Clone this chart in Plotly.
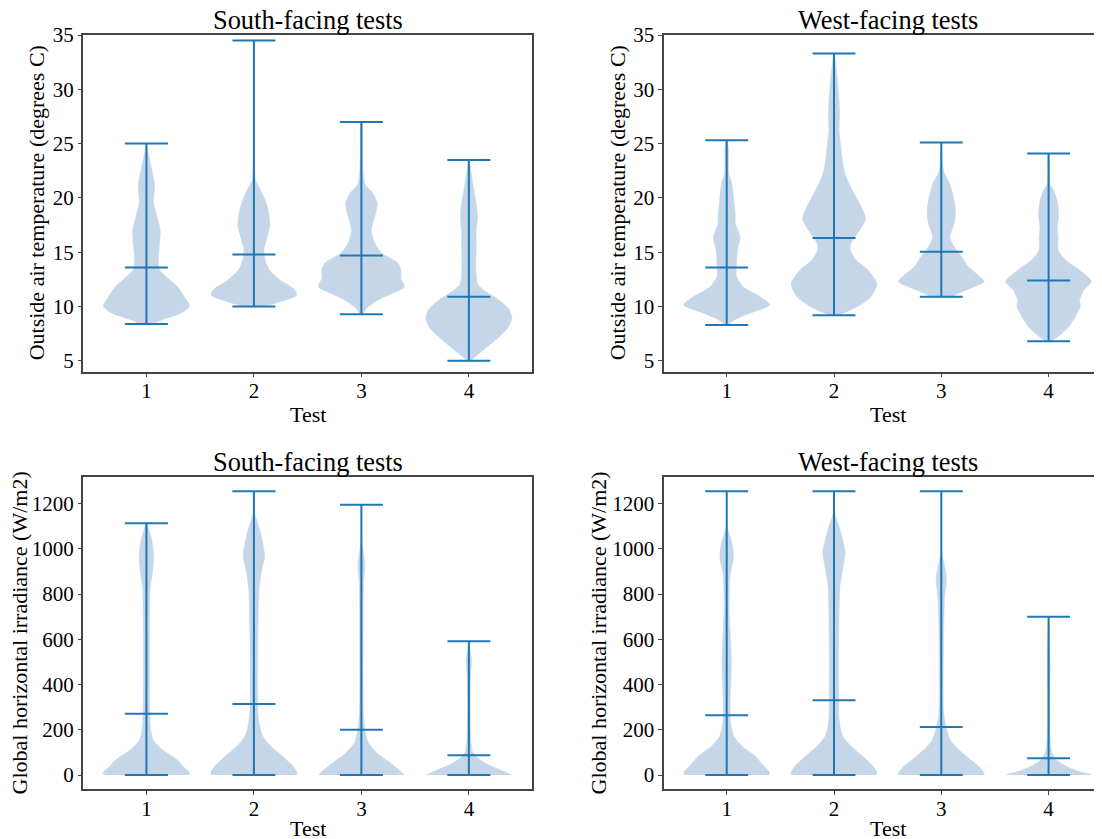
import plotly.graph_objects as go

W, H = 1102, 839
OFF = 8.0  # page body margin offset (px)
FONT = "Liberation Serif, Times New Roman, serif"
BLUE = "#1f77b4"
FILL = "#c4d6e8"
SPINE = "#444444"

tests = [1, 2, 3, 4]
tick_labels = ["1", "2", "3", "4"]
temp_ticks = [5, 10, 15, 20, 25, 30, 35]
ghi_ticks = [0, 200, 400, 600, 800, 1000, 1200]

# ---- summary statistics (max, min, mean) ----
south_temp_max = [25.0, 34.5, 27.0, 23.5]
south_temp_min = [8.4, 10.0, 9.3, 5.0]
south_temp_mean = [13.6, 14.8, 14.7, 10.9]

west_temp_max = [25.3, 33.3, 25.1, 24.1]
west_temp_min = [8.3, 9.2, 10.9, 6.8]
west_temp_mean = [13.6, 16.3, 15.05, 12.4]

south_ghi_max = [1113, 1255, 1195, 592]
south_ghi_min = [0, 0, 0, 0]
south_ghi_mean = [271, 314, 200, 88]

west_ghi_max = [1255, 1255, 1255, 700]
west_ghi_min = [0, 0, 0, 0]
west_ghi_mean = [265, 331, 213, 75]

# ---- violin outlines: values and relative density (1 = widest) ----
st1_v = [8.4, 8.8, 9.4, 10.06, 10.9, 11.8, 12.75, 13.4, 14.6, 17.0, 19.5, 21.3, 23.2, 24.4, 25.0]
st1_d = [0.15, 0.38, 0.81, 1.0, 0.88, 0.73, 0.46, 0.30, 0.28, 0.32, 0.17, 0.19, 0.09, 0.03, 0.0]
st2_v = [10.0, 10.45, 11.07, 11.7, 12.4, 13.4, 14.3, 15.2, 16.4, 17.5, 18.9, 20.1, 21.3, 21.6, 28.0, 34.5]
st2_d = [0.2, 0.62, 1.0, 0.9, 0.62, 0.35, 0.26, 0.23, 0.31, 0.37, 0.33, 0.23, 0.08, 0.04, 0.01, 0.0]
st3_v = [9.3, 9.84, 10.6, 11.2, 11.8, 12.6, 13.4, 14.0, 14.9, 15.8, 17.0, 18.6, 19.5, 20.4, 21.3, 23.2, 26.8, 27.0]
st3_d = [0.04, 0.12, 0.39, 0.7, 1.0, 0.92, 0.92, 0.85, 0.48, 0.31, 0.23, 0.33, 0.37, 0.27, 0.08, 0.03, 0.02, 0.0]
st4_v = [5.0, 5.55, 6.3, 7.2, 8.0, 8.9, 9.7, 10.6, 11.5, 12.1, 14.0, 15.5, 17.0, 18.3, 19.5, 21.3, 23.2, 23.5]
st4_d = [0.03, 0.2, 0.43, 0.7, 0.9, 1.0, 0.94, 0.7, 0.35, 0.2, 0.16, 0.17, 0.17, 0.2, 0.17, 0.09, 0.02, 0.0]

wt1_v = [8.3, 8.8, 9.4, 10.15, 10.9, 11.8, 12.75, 14.0, 15.2, 16.4, 17.65, 18.3, 19.5, 21.3, 22.25, 24.7, 25.3]
wt1_d = [0.04, 0.2, 0.55, 1.0, 0.78, 0.39, 0.23, 0.23, 0.25, 0.31, 0.2, 0.2, 0.17, 0.12, 0.05, 0.04, 0.0]
wt2_v = [9.2, 9.4, 10.0, 10.9, 12.1, 13.4, 14.3, 15.2, 15.8, 17.0, 18.0, 18.6, 19.8, 21.3, 22.6, 24.4, 26.2, 27.8, 30.8, 33.0, 33.3]
wt2_d = [0.12, 0.23, 0.55, 0.86, 1.0, 0.78, 0.51, 0.38, 0.39, 0.59, 0.73, 0.7, 0.55, 0.35, 0.23, 0.17, 0.12, 0.13, 0.08, 0.02, 0.0]
wt3_v = [10.8, 11.07, 11.7, 12.3, 12.75, 13.7, 14.6, 15.5, 16.4, 17.65, 18.6, 19.5, 21.3, 22.25, 23.0, 24.9, 25.1]
wt3_d = [0.15, 0.31, 0.7, 1.0, 0.9, 0.62, 0.47, 0.3, 0.2, 0.3, 0.33, 0.31, 0.2, 0.07, 0.03, 0.01, 0.0]
wt4_v = [6.8, 7.4, 8.15, 9.07, 10.0, 10.6, 11.5, 12.3, 13.4, 14.3, 15.2, 16.4, 17.3, 18.3, 19.5, 20.7, 21.3, 23.8, 24.1]
wt4_d = [0.06, 0.27, 0.47, 0.62, 0.74, 0.72, 0.82, 1.0, 0.7, 0.39, 0.22, 0.22, 0.2, 0.23, 0.21, 0.12, 0.03, 0.02, 0.0]

sg1_v = [0, 11.5, 34, 71, 115, 159, 218, 291, 512, 733, 836, 895, 969, 1042, 1101, 1113]
sg1_d = [0.98, 1.0, 0.88, 0.69, 0.35, 0.15, 0.09, 0.075, 0.07, 0.075, 0.09, 0.14, 0.17, 0.12, 0.03, 0.0]
sg2_v = [0, 11.5, 41, 85, 129, 174, 232, 291, 586, 822, 895, 969, 1057, 1131, 1160, 1255]
sg2_d = [0.98, 1.0, 0.9, 0.66, 0.39, 0.2, 0.12, 0.09, 0.09, 0.12, 0.17, 0.25, 0.17, 0.06, 0.01, 0.0]
sg3_v = [0, 19, 56, 100, 144, 203, 291, 586, 851, 924, 983, 1027, 1195]
sg3_d = [1.0, 0.9, 0.66, 0.35, 0.16, 0.08, 0.045, 0.04, 0.05, 0.08, 0.05, 0.01, 0.0]
sg4_v = [0, 19, 41, 71, 100, 144, 291, 439, 512, 556, 592]
sg4_d = [1.0, 0.78, 0.5, 0.23, 0.09, 0.05, 0.03, 0.04, 0.06, 0.02, 0.0]

wg1_v = [0, 11.5, 41, 85, 129, 174, 232, 321, 497, 733, 880, 969, 1027, 1101, 1255]
wg1_d = [0.98, 1.0, 0.86, 0.66, 0.35, 0.16, 0.09, 0.08, 0.11, 0.06, 0.08, 0.16, 0.12, 0.01, 0.0]
wg2_v = [0, 11.5, 41, 85, 129, 174, 247, 365, 586, 836, 910, 983, 1042, 1116, 1160, 1255]
wg2_d = [0.98, 1.0, 0.9, 0.66, 0.39, 0.2, 0.12, 0.11, 0.11, 0.14, 0.2, 0.26, 0.2, 0.09, 0.01, 0.0]
wg3_v = [0, 7, 34, 71, 115, 159, 232, 291, 586, 792, 866, 939, 983, 1255]
wg3_d = [0.99, 1.0, 0.9, 0.66, 0.39, 0.2, 0.09, 0.05, 0.05, 0.08, 0.12, 0.06, 0.01, 0.0]
wg4_v = [0, 4, 19, 41, 71, 100, 144, 291, 497, 672, 700]
wg4_d = [1.0, 0.95, 0.66, 0.39, 0.16, 0.08, 0.04, 0.025, 0.035, 0.01, 0.0]

HALF_WIDTH = 0.4   # violin half width at densest point (widths=0.8)
CAP_HALF = 0.2     # cap line half length


def fx(px):
    return (px - OFF) / W


def fy(py):
    return 1 - (py - OFF) / H


panels = [
    dict(xa="x", ya="y", title="South-facing tests",
         ylabel="Outside air temperature (degrees C)",
         profiles=[(st1_v, st1_d), (st2_v, st2_d), (st3_v, st3_d), (st4_v, st4_d)],
         vmax=south_temp_max, vmin=south_temp_min, vmean=south_temp_mean),
    dict(xa="x2", ya="y2", title="West-facing tests",
         ylabel="Outside air temperature (degrees C)",
         profiles=[(wt1_v, wt1_d), (wt2_v, wt2_d), (wt3_v, wt3_d), (wt4_v, wt4_d)],
         vmax=west_temp_max, vmin=west_temp_min, vmean=west_temp_mean),
    dict(xa="x3", ya="y3", title="South-facing tests",
         ylabel="Global horizontal irradiance (W/m2)",
         profiles=[(sg1_v, sg1_d), (sg2_v, sg2_d), (sg3_v, sg3_d), (sg4_v, sg4_d)],
         vmax=south_ghi_max, vmin=south_ghi_min, vmean=south_ghi_mean),
    dict(xa="x4", ya="y4", title="West-facing tests",
         ylabel="Global horizontal irradiance (W/m2)",
         profiles=[(wg1_v, wg1_d), (wg2_v, wg2_d), (wg3_v, wg3_d), (wg4_v, wg4_d)],
         vmax=west_ghi_max, vmin=west_ghi_min, vmean=west_ghi_mean),
]

fig = go.Figure()

for p in panels:
    for t, (vals, dens) in zip(tests, p["profiles"]):
        xs = [t - HALF_WIDTH * d for d in dens] + [t + HALF_WIDTH * d for d in dens[::-1]]
        ys = list(vals) + list(vals[::-1])
        fig.add_trace(go.Scatter(
            x=xs, y=ys, mode="lines", fill="toself", fillcolor=FILL,
            line=dict(width=0.5, color=FILL, shape="spline", smoothing=0.7),
            xaxis=p["xa"], yaxis=p["ya"], hoverinfo="skip", showlegend=False))
    lx, ly = [], []
    for t, hi, lo, mu in zip(tests, p["vmax"], p["vmin"], p["vmean"]):
        lx += [t, t, None]
        ly += [lo, hi, None]
        for v in (hi, lo, mu):
            lx += [t - CAP_HALF, t + CAP_HALF, None]
            ly += [v, v, None]
    fig.add_trace(go.Scatter(
        x=lx, y=ly, mode="lines", line=dict(color=BLUE, width=2),
        xaxis=p["xa"], yaxis=p["ya"], hoverinfo="skip", showlegend=False))

# geometry (pixels in the final picture)
L_X0, L_X1 = 83.3, 532.0
R_X0 = 663.7
R_X1 = W + OFF        # right panel runs past the picture edge
T_Y0, T_Y1 = 35.0, 371.7
B_Y0, B_Y1 = 477.0, 789.3
PX_PER_UNIT = 107.3
TICK1_R = 726.7

common_x = dict(tickmode="array", tickvals=tests, ticktext=tick_labels,
                ticks="outside", ticklen=3.5, tickwidth=1.2, tickcolor=SPINE,
                ticklabelstandoff=-4,
                showline=True, linecolor=SPINE, linewidth=1.5, mirror=True,
                showgrid=False, zeroline=False, fixedrange=True, automargin=False,
                tickfont=dict(family=FONT, size=21, color="black"))
common_y = dict(ticks="outside", ticklen=3.5, tickwidth=1.2, tickcolor=SPINE,
                showline=True, linecolor=SPINE, linewidth=1.5,
                showgrid=False, zeroline=False, fixedrange=True, automargin=False,
                tickfont=dict(family=FONT, size=21, color="black"))

left_range = [0.4128, 4.5872]
right_range = [1 - (TICK1_R - R_X0) / PX_PER_UNIT, 1 + (R_X1 - TICK1_R) / PX_PER_UNIT]
temp_range = [4.0, 35.0]
ghi_range = [-62.75, 1317.75]

fig.update_layout(
    width=W, height=H, margin=dict(l=0, r=0, t=0, b=0, autoexpand=False),
    paper_bgcolor="white", plot_bgcolor="white", showlegend=False,
    xaxis=dict(common_x, domain=[fx(L_X0), fx(L_X1)], anchor="y", range=left_range),
    yaxis=dict(common_y, domain=[fy(T_Y1), fy(T_Y0)], anchor="x", range=temp_range,
               tickvals=temp_ticks, mirror=True),
    xaxis2=dict(common_x, domain=[fx(R_X0), min(1.0, fx(R_X1))], anchor="y2", range=right_range),
    yaxis2=dict(common_y, domain=[fy(T_Y1), fy(T_Y0)], anchor="x2", range=temp_range,
                tickvals=temp_ticks, mirror=False),
    xaxis3=dict(common_x, domain=[fx(L_X0), fx(L_X1)], anchor="y3", range=left_range),
    yaxis3=dict(common_y, domain=[fy(B_Y1), fy(B_Y0)], anchor="x3", range=ghi_range,
                tickvals=ghi_ticks, mirror=True),
    xaxis4=dict(common_x, domain=[fx(R_X0), min(1.0, fx(R_X1))], anchor="y4", range=right_range),
    yaxis4=dict(common_y, domain=[fy(B_Y1), fy(B_Y0)], anchor="x4", range=ghi_range,
                tickvals=ghi_ticks, mirror=False),
)

# text: titles and axis labels
title_font = dict(family=FONT, size=26.4, color="black")
label_font = dict(family=FONT, size=22, color="black")
centers_x = [307.6, 888.0, 307.6, 888.0]
title_y = [20.0, 20.0, 461.5, 461.5]
xlabel_y = [414.0, 414.0, 828.0, 828.0]
ylabel_x = [36.0, 617.0, 19.4, 597.5]
ylabel_y = [203.3, 203.3, 633.0, 633.0]

for i, p in enumerate(panels):
    fig.add_annotation(text=p["title"], x=fx(centers_x[i]), y=fy(title_y[i]),
                       xref="paper", yref="paper", showarrow=False,
                       xanchor="center", yanchor="middle", font=title_font)
    fig.add_annotation(text="Test", x=fx(centers_x[i]), y=fy(xlabel_y[i]),
                       xref="paper", yref="paper", showarrow=False,
                       xanchor="center", yanchor="middle", font=label_font)
    fig.add_annotation(text=p["ylabel"], x=fx(ylabel_x[i]), y=fy(ylabel_y[i]),
                       xref="paper", yref="paper", showarrow=False, textangle=-90,
                       xanchor="center", yanchor="middle", font=label_font)

fig.write_html("out.html")
